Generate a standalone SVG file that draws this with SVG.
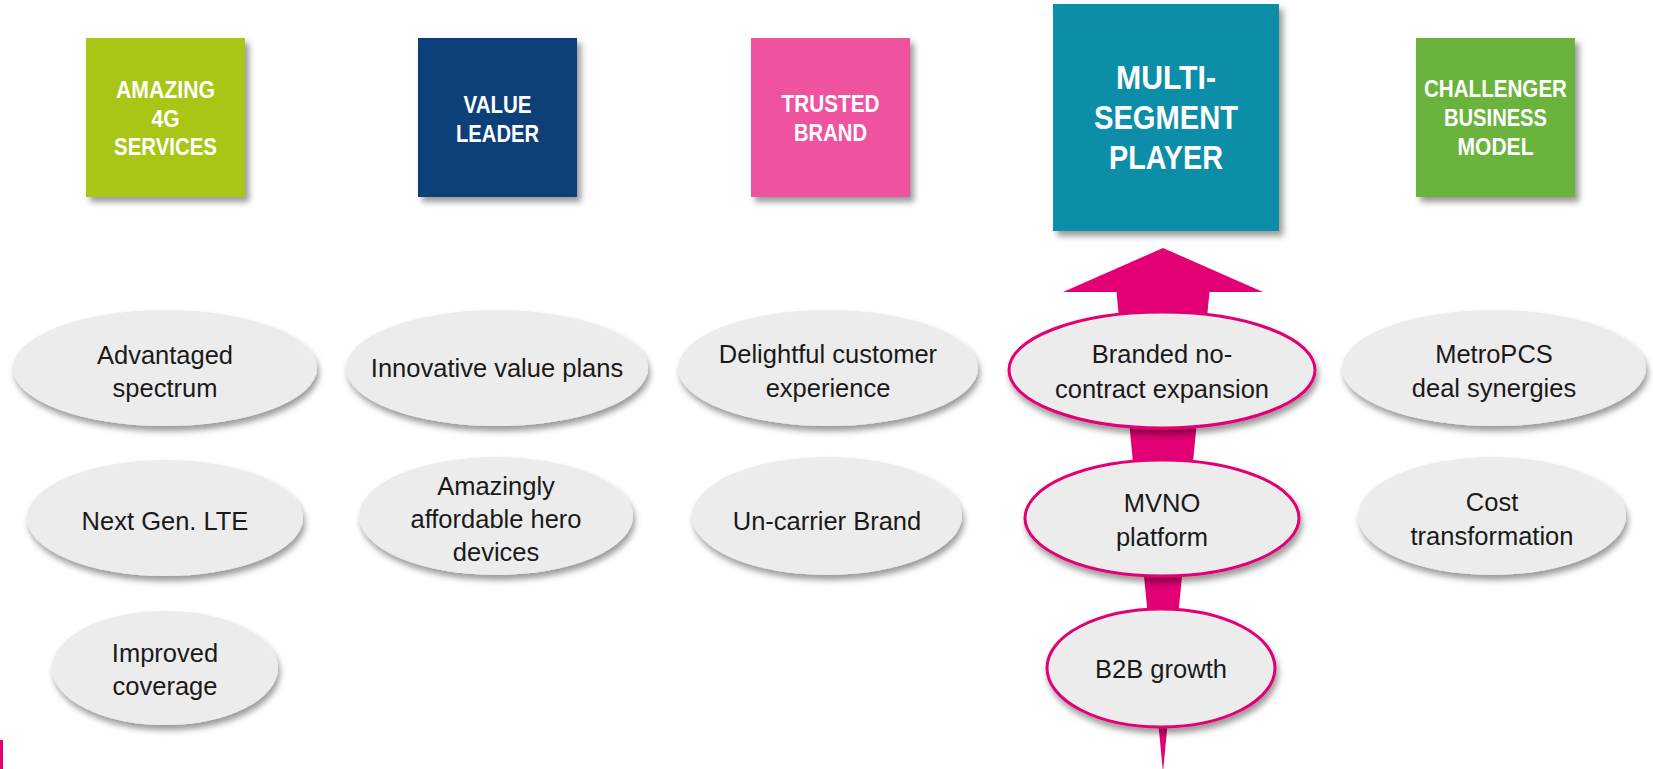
<svg xmlns="http://www.w3.org/2000/svg" width="1653" height="769" viewBox="0 0 1653 769">
<defs>
<style>
.box-t{font-family:"Liberation Sans",Arial,sans-serif;font-weight:bold;font-size:24px;fill:#ffffff;text-anchor:middle}
.big-t{font-size:33px}
.el{fill:#ECECEC;filter:url(#es)}
.elp{fill:#ECECEC;stroke:#E20074;stroke-width:3;filter:url(#es)}
.el-t{font-family:"Liberation Sans",Arial,sans-serif;font-size:25.5px;fill:#1a1a1a;text-anchor:middle}
</style>
<filter id="bs" x="-10%" y="-10%" width="130%" height="130%">
<feDropShadow dx="4" dy="5" stdDeviation="3" flood-color="#000" flood-opacity="0.4"/>
</filter>
<filter id="es" x="-10%" y="-20%" width="125%" height="150%">
<feDropShadow dx="2" dy="5" stdDeviation="3" flood-color="#000" flood-opacity="0.4"/>
</filter>
</defs>
<rect width="1653" height="769" fill="#ffffff"/>

<g id="connectors">
<polygon points="1163,248 1263,292 1209.5,292 1163,772 1116.5,292 1063,292" fill="#E20074"/>
</g>
<rect x="0" y="740" width="3" height="29" fill="#E20074"/>

<g id="box-amazing">
<rect x="86" y="38" width="159" height="159" fill="#A9C613" filter="url(#bs)"/>
<text class="box-t" x="165.5" y="98" textLength="99" lengthAdjust="spacingAndGlyphs">AMAZING</text>
<text class="box-t" x="165.5" y="127" textLength="28" lengthAdjust="spacingAndGlyphs">4G</text>
<text class="box-t" x="165.5" y="155" textLength="103" lengthAdjust="spacingAndGlyphs">SERVICES</text>
</g>
<g id="box-value">
<rect x="418" y="38" width="159" height="159" fill="#0B4178" filter="url(#bs)"/>
<text class="box-t" x="497.5" y="113" textLength="68" lengthAdjust="spacingAndGlyphs">VALUE</text>
<text class="box-t" x="497.5" y="142" textLength="83" lengthAdjust="spacingAndGlyphs">LEADER</text>
</g>
<g id="box-trusted">
<rect x="751" y="38" width="159" height="159" fill="#EF52A0" filter="url(#bs)"/>
<text class="box-t" x="830.5" y="112" textLength="98" lengthAdjust="spacingAndGlyphs">TRUSTED</text>
<text class="box-t" x="830.5" y="141" textLength="73" lengthAdjust="spacingAndGlyphs">BRAND</text>
</g>
<g id="box-multi">
<rect x="1053" y="4" width="226" height="227" fill="#078EA8" filter="url(#bs)"/>
<text class="box-t big-t" x="1166" y="89" textLength="100" lengthAdjust="spacingAndGlyphs">MULTI-</text>
<text class="box-t big-t" x="1166" y="129" textLength="144" lengthAdjust="spacingAndGlyphs">SEGMENT</text>
<text class="box-t big-t" x="1166" y="169" textLength="114" lengthAdjust="spacingAndGlyphs">PLAYER</text>
</g>
<g id="box-challenger">
<rect x="1416" y="38" width="159" height="159" fill="#6BB33E" filter="url(#bs)"/>
<text class="box-t" x="1495.5" y="97" textLength="143" lengthAdjust="spacingAndGlyphs">CHALLENGER</text>
<text class="box-t" x="1495.5" y="126" textLength="103" lengthAdjust="spacingAndGlyphs">BUSINESS</text>
<text class="box-t" x="1495.5" y="155" textLength="76" lengthAdjust="spacingAndGlyphs">MODEL</text>
</g>

<g id="el-advantaged">
<ellipse class="el" cx="165" cy="368" rx="152" ry="58"/>
<text class="el-t" x="165" y="364">Advantaged</text>
<text class="el-t" x="165" y="397">spectrum</text>
</g>
<g id="el-lte">
<ellipse class="el" cx="165" cy="518" rx="138" ry="58"/>
<text class="el-t" x="165" y="530">Next Gen. LTE</text>
</g>
<g id="el-coverage">
<ellipse class="el" cx="165" cy="668" rx="113" ry="57"/>
<text class="el-t" x="165" y="662">Improved</text>
<text class="el-t" x="165" y="695">coverage</text>
</g>

<g id="el-plans">
<ellipse class="el" cx="497" cy="368" rx="151" ry="58"/>
<text class="el-t" x="497" y="377">Innovative value plans</text>
</g>
<g id="el-devices">
<ellipse class="el" cx="496" cy="516" rx="137" ry="59"/>
<text class="el-t" x="496" y="495">Amazingly</text>
<text class="el-t" x="496" y="528">affordable hero</text>
<text class="el-t" x="496" y="561">devices</text>
</g>

<g id="el-delightful">
<ellipse class="el" cx="828" cy="368" rx="150" ry="58"/>
<text class="el-t" x="828" y="363">Delightful customer</text>
<text class="el-t" x="828" y="397">experience</text>
</g>
<g id="el-uncarrier">
<ellipse class="el" cx="827" cy="516" rx="135" ry="59"/>
<text class="el-t" x="827" y="530">Un-carrier Brand</text>
</g>

<g id="el-branded">
<ellipse class="elp" cx="1162" cy="370" rx="153" ry="58"/>
<text class="el-t" x="1162" y="363">Branded no-</text>
<text class="el-t" x="1162" y="398">contract expansion</text>
</g>
<g id="el-mvno">
<ellipse class="elp" cx="1162" cy="518" rx="137" ry="58"/>
<text class="el-t" x="1162" y="512">MVNO</text>
<text class="el-t" x="1162" y="546">platform</text>
</g>
<g id="el-b2b">
<ellipse class="elp" cx="1161" cy="668" rx="114" ry="59"/>
<text class="el-t" x="1161" y="678">B2B growth</text>
</g>

<g id="el-metro">
<ellipse class="el" cx="1494" cy="368" rx="152" ry="58"/>
<text class="el-t" x="1494" y="363">MetroPCS</text>
<text class="el-t" x="1494" y="397">deal synergies</text>
</g>
<g id="el-cost">
<ellipse class="el" cx="1492" cy="516" rx="134" ry="59"/>
<text class="el-t" x="1492" y="511">Cost</text>
<text class="el-t" x="1492" y="545">transformation</text>
</g>
</svg>
